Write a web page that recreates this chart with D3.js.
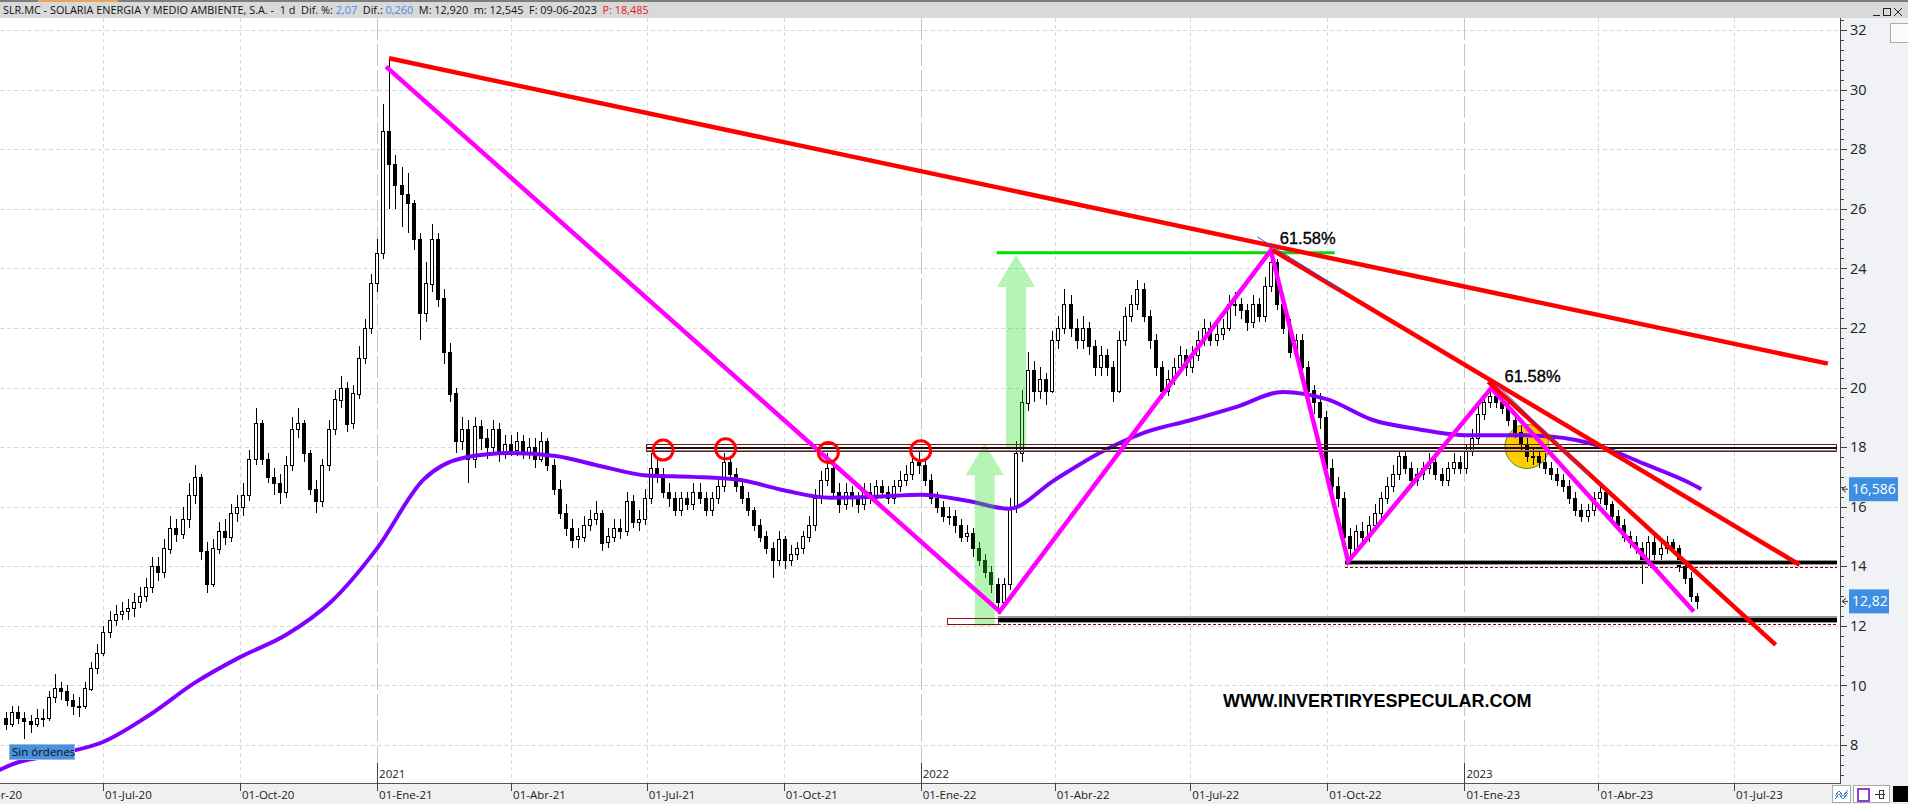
<!DOCTYPE html>
<html><head><meta charset="utf-8">
<script src="https://cdn.jsdelivr.net/npm/d3@7"></script>
<style>
html,body{margin:0;padding:0;background:#fff;overflow:hidden}
svg{display:block}
text{font-family:"Open Sans","Noto Sans",Arial,sans-serif}
</style></head><body>
<svg id="chart" width="1908" height="804"></svg>
<script>
// ---------------- DATA ----------------
const titleParts = [
  {t:"SLR.MC - SOLARIA ENERGIA Y MEDIO AMBIENTE, S.A. -  1 d  Dif. %: ", c:"#111"},
  {t:"2,07", c:"#3a8ee6"},
  {t:"  Dif.: ", c:"#111"},
  {t:"0,260", c:"#3a8ee6"},
  {t:"  M: 12,920  m: 12,545  F: 09-06-2023  ", c:"#111"},
  {t:"P: 18,485", c:"#e8141e"}
];
const sampleStart = "2020-04-27", sampleEnd = "2023-06-10"; // sampled every ~4 days
const open = [
8.9,8.7,9.1,8.9,8.8,8.7,8.9,8.9,9.6,9.9,
9.8,9.5,9.3,9.3,9.9,10.6,11.1,11.8,12.2,12.4,
12.5,12.6,12.8,13.0,13.3,14.0,13.8,14.6,15.3,15.1,
15.6,16.4,17.0,14.5,13.4,14.6,15.2,15.0,15.8,16.0,
16.4,17.6,18.8,17.6,17.0,16.8,16.5,17.4,18.6,18.8,
17.8,16.6,16.2,17.4,18.6,19.6,20.0,18.8,19.8,21.0,
22.0,23.5,24.5,28.6,27.5,26.8,26.5,26.2,25.0,22.5,
23.5,25.0,23.0,21.2,19.8,18.2,18.6,17.6,18.7,18.3,
18.0,18.6,17.8,18.1,17.9,18.2,17.8,18.0,17.6,18.2,
17.4,16.6,15.8,15.3,14.9,15.0,15.4,15.6,15.8,14.8,
15.0,15.3,15.2,16.2,15.5,15.6,16.3,17.3,17.1,16.5,
16.3,15.9,16.3,16.1,16.5,16.3,15.9,16.3,16.7,17.5,
17.1,16.7,16.3,15.9,15.4,15.0,14.6,14.2,14.9,14.2,
14.4,14.6,15.0,15.4,16.3,16.9,17.3,16.5,16.1,16.5,
16.3,16.1,16.5,16.3,16.7,16.5,16.3,16.7,16.9,17.1,
17.5,17.4,16.9,16.3,16.0,15.7,15.7,15.4,15.0,15.1,
14.6,14.2,13.8,13.4,12.8,13.4,16.0,17.8,19.5,20.6,
19.9,20.3,19.9,21.6,22.0,22.8,22.0,21.6,22.0,21.4,
20.7,21.1,20.7,19.9,21.6,22.4,22.8,23.3,22.4,21.6,
20.7,19.9,20.3,20.7,21.1,20.7,21.1,21.6,22.0,21.6,
21.8,22.0,22.8,22.8,22.6,22.2,22.8,22.4,23.4,24.2,
22.8,22.0,21.2,21.6,20.7,19.9,19.5,19.0,17.3,16.7,
16.3,15.0,14.6,15.2,15.0,15.4,15.8,16.3,16.7,17.1,
17.7,17.3,16.9,17.1,17.3,17.5,17.1,16.9,17.3,17.5,
17.3,17.9,18.3,19.1,19.5,19.7,19.5,19.3,18.9,18.5,
18.1,17.7,17.7,17.5,17.3,17.1,16.9,16.7,16.3,15.9,
15.7,15.9,16.3,16.5,16.1,15.7,15.4,15.0,14.8,14.6,
14.2,14.8,14.4,14.6,14.8,14.6,14.0,13.6,13.0];
const high = [
9.1,9.3,9.3,9.1,9.0,9.2,9.2,9.8,10.4,10.1,
10.0,9.7,9.6,10.1,10.8,11.4,12.0,12.5,12.7,12.8,
12.9,13.1,13.3,13.6,14.3,14.3,14.9,15.7,15.6,16.0,
16.8,17.4,17.1,14.8,14.9,15.5,15.6,16.1,16.4,16.8,
17.9,19.3,18.9,17.8,17.3,17.1,17.7,19.0,19.3,18.9,
17.9,16.9,17.6,18.9,19.9,20.4,20.2,20.1,21.4,22.3,
23.8,25.0,29.5,31.0,27.8,27.4,27.2,26.3,25.2,24.2,
25.5,25.2,23.3,21.5,20.0,19.0,18.9,19.0,18.9,18.6,
18.9,18.8,18.4,18.4,18.5,18.4,18.3,18.3,18.5,18.3,
17.6,16.9,16.1,15.6,15.3,15.7,15.9,16.2,15.9,15.3,
15.6,15.6,16.5,16.4,15.9,16.6,17.8,17.6,17.3,16.8,
16.5,16.5,16.5,16.8,16.8,16.5,16.5,17.0,17.8,17.7,
17.3,16.9,16.5,16.0,15.6,15.2,14.8,15.2,15.0,14.7,
14.8,15.2,15.7,16.6,17.2,17.8,17.4,16.8,16.8,16.7,
16.5,16.8,16.8,16.9,16.9,16.7,16.9,17.2,17.4,17.8,
17.9,17.6,17.1,16.5,16.2,16.0,15.9,15.6,15.4,15.3,
14.8,14.4,14.0,13.6,13.6,16.3,18.2,19.9,21.2,20.9,
20.7,20.5,21.9,22.4,23.3,23.1,22.3,22.4,22.2,21.6,
21.4,21.3,20.9,21.9,22.7,23.1,23.6,23.5,22.6,21.8,
20.9,20.6,21.0,21.4,21.3,21.4,21.9,22.3,22.2,22.1,
22.3,23.1,23.2,23.0,22.8,23.1,23.0,23.7,24.6,24.3,
23.0,22.3,21.8,21.8,20.9,20.1,19.8,19.2,17.6,17.0,
16.5,15.3,15.4,15.5,15.7,16.1,16.5,17.0,17.4,17.9,
17.9,17.5,17.3,17.5,17.8,17.7,17.3,17.5,17.8,17.7,
18.1,18.6,19.4,19.8,20.0,19.9,19.7,19.5,19.1,18.7,
18.3,18.0,17.9,17.8,17.5,17.3,17.1,16.9,16.5,16.1,
16.1,16.5,16.7,16.6,16.2,15.9,15.6,15.2,15.0,14.8,
15.0,15.0,14.8,15.0,14.9,14.7,14.2,13.8,13.1];
const low = [
8.5,8.6,8.7,8.2,8.4,8.6,8.6,8.8,9.4,9.5,
9.3,9.0,8.95,9.2,9.8,10.4,11.0,11.6,12.0,12.2,
12.2,12.3,12.6,12.8,13.1,13.5,13.6,14.4,14.8,14.9,
15.3,16.1,14.2,13.1,13.3,14.4,14.7,14.8,15.5,15.7,
16.2,17.4,17.4,16.8,16.4,16.1,16.3,17.2,18.3,17.5,
16.4,15.8,16.0,17.2,18.4,19.3,18.5,18.6,19.6,20.8,
21.8,23.2,24.3,26.0,26.0,25.4,25.2,24.6,21.6,22.2,
23.2,22.7,20.8,19.5,17.8,17.9,16.8,17.3,17.9,17.6,
17.8,17.5,17.6,17.7,17.7,17.6,17.6,17.3,17.5,17.2,
16.4,15.6,15.0,14.6,14.6,14.8,15.2,15.4,14.5,14.6,
14.8,14.9,15.0,15.3,15.2,15.4,16.1,16.8,16.3,16.0,
15.7,15.7,15.9,15.9,16.1,15.7,15.7,16.1,16.5,16.9,
16.5,16.1,15.7,15.2,14.8,14.4,13.6,14.0,13.9,14.0,
14.2,14.4,14.8,15.2,16.1,16.7,16.3,15.8,15.9,16.0,
15.8,15.9,16.1,16.1,16.3,16.1,16.1,16.5,16.7,16.9,
17.1,16.7,16.1,15.8,15.5,15.4,15.1,14.8,14.8,14.3,
14.0,13.6,13.1,12.4,12.6,13.2,15.8,17.5,19.2,19.5,
19.6,19.4,19.8,21.3,21.8,21.7,21.3,21.3,21.1,20.4,
20.4,20.4,19.5,19.8,21.4,22.2,22.6,22.2,21.3,20.4,
19.6,19.7,20.1,20.5,20.4,20.5,20.9,21.4,21.4,21.4,
21.6,21.9,22.4,22.3,21.9,22.0,22.2,22.2,23.2,22.6,
21.8,21.0,21.0,20.5,19.6,19.1,18.6,17.0,16.4,16.0,
14.8,14.2,14.4,14.8,14.8,15.2,15.6,16.1,16.5,16.9,
17.1,16.7,16.7,16.9,17.1,16.9,16.7,16.7,17.1,17.1,
17.1,17.7,18.1,18.9,19.3,19.3,19.1,18.7,18.3,17.9,
17.5,17.4,17.3,17.1,16.9,16.7,16.5,16.1,15.7,15.5,
15.5,15.7,16.1,15.9,15.5,15.2,14.8,14.6,14.4,13.4,
14.0,14.2,14.2,14.4,14.4,13.8,13.4,12.8,12.55];
const close = [
8.7,9.1,8.9,8.8,8.7,8.9,8.9,9.6,9.9,9.8,
9.5,9.3,9.3,9.9,10.6,11.1,11.8,12.2,12.4,12.5,
12.6,12.8,13.0,13.3,14.0,13.8,14.6,15.3,15.1,15.6,
16.4,17.0,14.5,13.4,14.6,15.2,15.0,15.8,16.0,16.4,
17.6,18.8,17.6,17.0,16.8,16.5,17.4,18.6,18.8,17.8,
16.6,16.2,17.4,18.6,19.6,20.0,18.8,19.8,21.0,22.0,
23.5,24.5,28.6,27.5,26.8,26.5,26.2,25.0,22.5,23.5,
25.0,23.0,21.2,19.8,18.2,18.6,17.6,18.7,18.3,18.0,
18.6,17.8,18.1,17.9,18.2,17.8,18.0,17.6,18.2,17.4,
16.6,15.8,15.3,14.9,15.0,15.4,15.6,15.8,14.8,15.0,
15.3,15.2,16.2,15.5,15.6,16.3,17.3,17.1,16.5,16.3,
15.9,16.3,16.1,16.5,16.3,15.9,16.3,16.7,17.5,17.1,
16.7,16.3,15.9,15.4,15.0,14.6,14.2,14.9,14.2,14.4,
14.6,15.0,15.4,16.3,16.9,17.3,16.5,16.1,16.5,16.3,
16.1,16.5,16.3,16.7,16.5,16.3,16.7,16.9,17.1,17.5,
17.4,16.9,16.3,16.0,15.7,15.7,15.4,15.0,15.1,14.6,
14.2,13.8,13.4,12.8,13.4,16.0,17.8,19.5,20.6,19.9,
20.3,19.9,21.6,22.0,22.8,22.0,21.6,22.0,21.4,20.7,
21.1,20.7,19.9,21.6,22.4,22.8,23.3,22.4,21.6,20.7,
19.9,20.3,20.7,21.1,20.7,21.1,21.6,22.0,21.6,21.8,
22.0,22.8,22.8,22.6,22.2,22.8,22.4,23.4,24.2,22.8,
22.0,21.2,21.6,20.7,19.9,19.5,19.0,17.3,16.7,16.3,
15.0,14.6,15.2,15.0,15.4,15.8,16.3,16.7,17.1,17.7,
17.3,16.9,17.1,17.3,17.5,17.1,16.9,17.3,17.5,17.3,
17.9,18.3,19.1,19.5,19.7,19.5,19.3,18.9,18.5,18.1,
17.7,17.7,17.5,17.3,17.1,16.9,16.7,16.3,15.9,15.7,
15.9,16.3,16.5,16.1,15.7,15.4,15.0,14.8,14.6,14.2,
14.8,14.4,14.6,14.8,14.6,14.0,13.6,13.0,12.82];

const maDates = ["2020-04-22","2020-05-01","2020-06-01","2020-07-01","2020-08-01","2020-09-01","2020-10-01","2020-11-01","2020-12-01",
"2021-01-01","2021-02-01","2021-03-01","2021-04-01","2021-05-01","2021-06-01","2021-07-01","2021-08-01","2021-09-01","2021-10-01","2021-11-01","2021-12-01",
"2022-01-01","2022-02-01","2022-03-01","2022-04-01","2022-05-01","2022-06-01","2022-07-01","2022-08-01","2022-09-01","2022-10-01","2022-11-01","2022-12-01",
"2023-01-01","2023-02-01","2023-03-01","2023-04-01","2023-05-01","2023-06-01","2023-06-09"];
const maValues = [7.15,7.35,7.7,8.1,9.0,10.1,10.95,11.7,12.8,
14.6,16.9,17.65,17.8,17.7,17.35,17.05,17.0,16.9,16.55,16.3,16.33,
16.4,16.2,15.93,16.9,17.8,18.5,18.9,19.35,19.85,19.6,18.9,18.6,
18.4,18.4,18.35,18.05,17.45,16.8,16.586];

const yMajorTicks = [8,10,12,14,16,18,20,22,24,26,28,30,32];
const quarterDates = ["2020-04-01","2020-07-01","2020-10-01","2021-01-01","2021-04-01","2021-07-01","2021-10-01","2022-01-01","2022-04-01","2022-07-01","2022-10-01","2023-01-01","2023-04-01","2023-07-01"];
const quarterLabels = ["01-Abr-20","01-Jul-20","01-Oct-20","01-Ene-21","01-Abr-21","01-Jul-21","01-Oct-21","01-Ene-22","01-Abr-22","01-Jul-22","01-Oct-22","01-Ene-23","01-Abr-23","01-Jul-23"];
const yearDates = ["2021-01-01","2022-01-01","2023-01-01"];
const yearLabels = ["2021","2022","2023"];

// drawings (date, value)
const redLines = [
  [["2021-01-09",31.05],["2023-09-02",20.8]],
  [["2022-08-25",24.62],["2023-08-14",14.05]],
  [["2023-01-17",20.2],["2023-07-29",11.36]]
];
const zigzag = [["2021-01-07",30.77],["2022-02-23",12.48],["2022-08-24",24.6],["2022-10-15",14.16],["2023-01-19",19.98],["2023-06-04",12.48]];
const blueLines = [
  [["2022-08-15",25.05],["2022-10-11",23.27]],
  [["2023-01-23",20.09],["2023-03-26",17.03]]
];
const greenTarget = [["2022-02-21",24.52],["2022-10-06",24.52]];
const arrows = [ // date, from value, to value
  ["2022-02-13",12.0,18.13],
  ["2022-03-06",18.0,24.45]
];
const redCircles = [["2021-07-12",17.9],["2021-08-23",17.94],["2021-10-31",17.82],["2022-01-01",17.88]];
const yellowCircle = ["2023-02-12",18.02];
const fibLabels = [["2022-08-30",24.82,"61.58%"],["2023-01-28",20.19,"61.58%"]];
const level18 = {from:"2021-07-01", to:"2023-09-08", top:18.08, bottom:17.84, line:17.98};
const level14 = {from:"2022-10-13", to:"2023-09-08", top:14.19, line:14.12, dash:13.95};
const level12 = {boxFrom:"2022-01-19", from:"2022-02-22", to:"2023-09-08", top:12.24, line:12.2, dash:12.03};
const watermark = ["2022-07-23",9.28,"WWW.INVERTIRYESPECULAR.COM"];
const lastPrice = close[close.length-1];
const lastMA = maValues[maValues.length-1];

// ---------------- SETUP ----------------
const W = 1908, H = 804, PR = 1840, PT = 18, PB = 783;
const parse = d3.utcParse("%Y-%m-%d");
const x = d3.scaleUtc().domain([parse("2020-07-01"), parse("2023-07-01")]).range([103, 1734]);
const y = d3.scaleLinear().domain([8, 32]).range([745, 30]);
const fmt = v => String(v).replace(".", ",");

const svg = d3.select("#chart");
svg.append("defs").append("clipPath").attr("id","pc")
  .append("rect").attr("x",0).attr("y",PT).attr("width",PR).attr("height",PB-PT);
svg.append("rect").attr("width",W).attr("height",H).attr("fill","#fff");

const plot = svg.append("g").attr("clip-path","url(#pc)");

// grid
const grid = plot.append("g").attr("shape-rendering","crispEdges");
grid.selectAll(".hg").data(yMajorTicks).join("line")
  .attr("x1",0).attr("x2",PR)
  .attr("y1",d=>Math.round(y(d))+0.5).attr("y2",d=>Math.round(y(d))+0.5)
  .attr("stroke","#d8d8d8").attr("stroke-dasharray","4,3");
grid.selectAll(".vg").data(quarterDates.filter(d=>!yearDates.includes(d))).join("line")
  .attr("x1",d=>Math.round(x(parse(d)))+0.5).attr("x2",d=>Math.round(x(parse(d)))+0.5)
  .attr("y1",PT).attr("y2",PB)
  .attr("stroke","#d8d8d8").attr("stroke-dasharray","4,3");
grid.selectAll(".yg").data(yearDates).join("line")
  .attr("x1",d=>Math.round(x(parse(d)))+0.5).attr("x2",d=>Math.round(x(parse(d)))+0.5)
  .attr("y1",PT).attr("y2",PB)
  .attr("stroke","#c6c6c6").attr("stroke-width",1.5).attr("stroke-dasharray","22,4");

// yellow circle (under price)
plot.append("circle").attr("cx",x(parse(yellowCircle[0]))).attr("cy",y(yellowCircle[1])).attr("r",22)
  .attr("fill","#ffcc00").attr("stroke","#4a8a2a").attr("stroke-width",1);

// candles
const sampleDates = d3.utcHour.range(parse(sampleStart), parse(sampleEnd), 98);
const n = Math.min(sampleDates.length, close.length, open.length, high.length, low.length);
const candles = d3.range(n).map(i => ({d:sampleDates[i], o:open[i], h:high[i], l:low[i], c:close[i]}));
const cg = plot.append("g").attr("shape-rendering","crispEdges");
cg.selectAll("line").data(candles).join("line")
  .attr("x1",d=>Math.round(x(d.d))+0.5).attr("x2",d=>Math.round(x(d.d))+0.5)
  .attr("y1",d=>y(d.h)).attr("y2",d=>y(d.l)).attr("stroke","#000").attr("stroke-width",1.6);
cg.selectAll("rect").data(candles).join("rect")
  .attr("x",d=>Math.round(x(d.d))-1.5).attr("width",3)
  .attr("y",d=>Math.round(y(Math.max(d.o,d.c)))+0.5)
  .attr("height",d=>Math.max(1, Math.round(Math.abs(y(d.o)-y(d.c)))))
  .attr("fill",d=>d.c>=d.o?"#fff":"#000").attr("stroke","#000");

// moving average
plot.append("path").datum(maDates.map((d,i)=>[parse(d),maValues[i]]))
  .attr("d", d3.line().x(d=>x(d[0])).y(d=>y(d[1])).curve(d3.curveMonotoneX))
  .attr("fill","none").attr("stroke","#8000ff").attr("stroke-width",4);

// green arrows (translucent)
function arrowPath(cx, yb, ya, sw, hw, hh){
  return `M${cx-sw/2},${yb}L${cx-sw/2},${ya+hh}L${cx-hw/2},${ya+hh}L${cx},${ya}L${cx+hw/2},${ya+hh}L${cx+sw/2},${ya+hh}L${cx+sw/2},${yb}Z`;
}
plot.selectAll(".arrow").data(arrows).join("path")
  .attr("d",d=>arrowPath(x(parse(d[0])), y(d[1]), y(d[2]), 20, 38, 32))
  .attr("fill","#28e128").attr("fill-opacity",0.35);

// level lines
const lg = plot.append("g").attr("shape-rendering","crispEdges");
// 18
lg.append("rect").attr("x",x(parse(level18.from))).attr("y",y(level18.top))
  .attr("width",x(parse(level18.to))-x(parse(level18.from))).attr("height",y(level18.bottom)-y(level18.top))
  .attr("fill","none").attr("stroke","#7a1515").attr("stroke-width",1);
lg.append("line").attr("x1",x(parse(level18.from))).attr("x2",x(parse(level18.to)))
  .attr("y1",y(level18.line)).attr("y2",y(level18.line)).attr("stroke","#111").attr("stroke-width",2);
lg.append("line").attr("x1",x(parse(level18.from))).attr("x2",x(parse(level18.to)))
  .attr("y1",y(level18.line)+3).attr("y2",y(level18.line)+3).attr("stroke","#888").attr("stroke-width",1);
// 14
lg.append("line").attr("x1",x(parse(level14.from))).attr("x2",x(parse(level14.to)))
  .attr("y1",y(level14.top)).attr("y2",y(level14.top)).attr("stroke","#9a1010").attr("stroke-width",1);
lg.append("line").attr("x1",x(parse(level14.from))).attr("x2",x(parse(level14.to)))
  .attr("y1",y(level14.line)).attr("y2",y(level14.line)).attr("stroke","#999").attr("stroke-width",5);
lg.append("line").attr("x1",x(parse(level14.from))).attr("x2",x(parse(level14.to)))
  .attr("y1",y(level14.line)).attr("y2",y(level14.line)).attr("stroke","#000").attr("stroke-width",3);
lg.append("line").attr("x1",x(parse(level14.from))).attr("x2",x(parse(level14.to)))
  .attr("y1",y(level14.dash)).attr("y2",y(level14.dash)).attr("stroke","#8b0000").attr("stroke-dasharray","3,2");
// 12
lg.append("rect").attr("x",x(parse(level12.boxFrom))).attr("y",y(level12.top))
  .attr("width",x(parse(level12.from))-x(parse(level12.boxFrom))).attr("height",y(level12.dash)-y(level12.top))
  .attr("fill","none").attr("stroke","#8b1a1a");
lg.append("line").attr("x1",x(parse(level12.from))).attr("x2",x(parse(level12.to)))
  .attr("y1",y(level12.line)).attr("y2",y(level12.line)).attr("stroke","#999").attr("stroke-width",7);
lg.append("line").attr("x1",x(parse(level12.from))).attr("x2",x(parse(level12.to)))
  .attr("y1",y(level12.line)).attr("y2",y(level12.line)).attr("stroke","#000").attr("stroke-width",4);
lg.append("line").attr("x1",x(parse(level12.boxFrom))).attr("x2",x(parse(level12.to)))
  .attr("y1",y(level12.dash)).attr("y2",y(level12.dash)).attr("stroke","#8b0000").attr("stroke-dasharray","3,2");

// green target
plot.append("line").attr("x1",x(parse(greenTarget[0][0]))).attr("x2",x(parse(greenTarget[1][0])))
  .attr("y1",y(greenTarget[0][1])).attr("y2",y(greenTarget[1][1]))
  .attr("stroke","#00e000").attr("stroke-width",3);

const ln = d3.line().x(d=>x(parse(d[0]))).y(d=>y(d[1]));
// zigzag
plot.append("path").attr("d",ln(zigzag)).attr("fill","none")
  .attr("stroke","#ff00ff").attr("stroke-width",4.5).attr("stroke-linejoin","miter");
// red trend lines
plot.selectAll(".red").data(redLines).join("path").attr("d",d=>ln(d))
  .attr("fill","none").attr("stroke","#ff0000").attr("stroke-width",4.5);
// blue thin lines
plot.selectAll(".blue").data(blueLines).join("path").attr("d",d=>ln(d))
  .attr("fill","none").attr("stroke","#1f5fd0").attr("stroke-width",1);
// red circles
plot.selectAll(".rc").data(redCircles).join("circle")
  .attr("cx",d=>x(parse(d[0]))).attr("cy",d=>y(d[1])).attr("r",10)
  .attr("fill","none").attr("stroke","#ff0000").attr("stroke-width",3);
// fib labels
plot.selectAll(".fib").data(fibLabels).join("text")
  .attr("x",d=>x(parse(d[0]))).attr("y",d=>y(d[1])).text(d=>d[2])
  .style("font-family","'Liberation Sans',Arial,sans-serif").style("font-size","16.5px")
  .attr("fill","#000").attr("stroke","#000").attr("stroke-width",0.35);
// watermark
plot.append("text").attr("x",x(parse(watermark[0]))).attr("y",y(watermark[1])).text(watermark[2])
  .style("font-family","'Liberation Sans',Arial,sans-serif").style("font-size","18px").style("font-weight","bold").attr("fill","#000");

// "Sin órdenes"
svg.append("rect").attr("x",9.5).attr("y",744.5).attr("width",65).attr("height",15)
  .attr("fill","#4a90dc").attr("stroke","#8cbcf0");
svg.append("text").attr("x",12).attr("y",756).text("Sin órdenes").style("font-size","11.5px").attr("fill","#111");

// ---------------- PANELS & AXES ----------------
svg.append("rect").attr("x",PR+1).attr("y",PT).attr("width",W-PR-1).attr("height",PB-PT).attr("fill","#f1f2f5");
svg.append("rect").attr("x",0).attr("y",PB).attr("width",W).attr("height",H-PB).attr("fill","#f0f0f0");
// title bar
svg.append("rect").attr("x",0).attr("y",0).attr("width",W).attr("height",PT).attr("fill","#d9d9d9");
svg.append("rect").attr("x",0).attr("y",0).attr("width",W).attr("height",2).attr("fill","#7d7d7d");
svg.append("rect").attr("x",38).attr("y",0).attr("width",80).attr("height",2).attr("fill","#e9a55e");
const tt = svg.append("text").attr("x",3).attr("y",14).attr("xml:space","preserve")
  .style("font-size","12px").style("white-space","pre");
titleParts.forEach(p=>tt.append("tspan").text(p.t).attr("fill",p.c));
const natural = tt.node().getComputedTextLength();
if (natural > 0) tt.style("font-size", (12 * 646 / natural).toFixed(2) + "px");

// window buttons
const wb = svg.append("g").attr("stroke","#222").attr("fill","none").attr("shape-rendering","crispEdges");
wb.append("line").attr("x1",1873).attr("x2",1880).attr("y1",15.5).attr("y2",15.5);
wb.append("rect").attr("x",1883.5).attr("y",8.5).attr("width",7).attr("height",7);
wb.append("line").attr("x1",1894).attr("x2",1902).attr("y1",8).attr("y2",16);
wb.append("line").attr("x1",1902).attr("x2",1894).attr("y1",8).attr("y2",16);
svg.append("rect").attr("x",1890.5).attr("y",23.5).attr("width",18).attr("height",19).attr("fill","#fafafa").attr("stroke","#aaa");

// y axis
const ya = svg.append("g").attr("shape-rendering","crispEdges");
ya.append("line").attr("x1",PR+0.5).attr("x2",PR+0.5).attr("y1",PT).attr("y2",PB).attr("stroke","#444");
const minor = d3.range(-4, 76).map(k=>8+k/3).filter(v=>y(v)>PT+1 && y(v)<PB-1);
ya.selectAll(".mt").data(minor).join("line")
  .attr("x1",PR).attr("x2",PR+4).attr("y1",d=>Math.round(y(d))+0.5).attr("y2",d=>Math.round(y(d))+0.5).attr("stroke","#444");
ya.selectAll(".Mt").data(yMajorTicks).join("line")
  .attr("x1",PR).attr("x2",PR+7).attr("y1",d=>Math.round(y(d))+0.5).attr("y2",d=>Math.round(y(d))+0.5).attr("stroke","#444");
svg.selectAll(".yl").data(yMajorTicks).join("text")
  .attr("x",PR+10).attr("y",d=>y(d)).attr("dy","0.36em").text(d=>d)
  .style("font-size","14.5px").attr("fill","#222");

// value badges
function badge(v, label, w){
  const yy = y(v);
  svg.append("rect").attr("x",1849).attr("y",yy-12).attr("width",w).attr("height",24).attr("fill","#3d8fe2");
  svg.append("text").attr("x",1852).attr("y",yy).attr("dy","0.36em").text(label)
    .style("font-size","14px").attr("fill","#fff");
  svg.append("path").attr("d",`M1846,${yy-3}L1842,${yy}L1846,${yy+3}M1842,${yy}L1848,${yy}`)
    .attr("stroke","#333").attr("fill","none");
}
badge(lastMA, fmt(lastMA), 49);
badge(lastPrice, fmt(lastPrice), 40);

// x axis
const xa = svg.append("g").attr("shape-rendering","crispEdges");
xa.append("line").attr("x1",0).attr("x2",PR+1).attr("y1",PB+0.5).attr("y2",PB+0.5).attr("stroke","#555").attr("stroke-width",1.5);
xa.selectAll(".qt").data(quarterDates).join("line")
  .attr("x1",d=>Math.round(x(parse(d)))+0.5).attr("x2",d=>Math.round(x(parse(d)))+0.5)
  .attr("y1",PB).attr("y2",PB+8).attr("stroke","#444");
xa.selectAll(".ytk").data(yearDates).join("line")
  .attr("x1",d=>Math.round(x(parse(d)))+0.5).attr("x2",d=>Math.round(x(parse(d)))+0.5)
  .attr("y1",PB-20).attr("y2",PB).attr("stroke","#444");
svg.selectAll(".ql").data(quarterDates).join("text")
  .attr("x",d=>x(parse(d))+2).attr("y",PB+16).text((d,i)=>quarterLabels[i])
  .style("font-size","11.5px").attr("fill","#222");
svg.selectAll(".yrl").data(yearDates).join("text")
  .attr("x",d=>x(parse(d))+2).attr("y",PB-5).text((d,i)=>yearLabels[i])
  .style("font-size","11.5px").attr("fill","#222");

// bottom-right icons
const bi = svg.append("g").attr("shape-rendering","crispEdges");
bi.append("rect").attr("x",1832.5).attr("y",785.5).attr("width",18).attr("height",17).attr("fill","#fff").attr("stroke","#aaa");
bi.append("path").attr("d","M1835,796L1839,791L1843,796L1848,790M1835,799L1839,794L1843,799L1848,793").attr("stroke","#3b7fd0").attr("fill","none");
bi.append("rect").attr("x",1853.5).attr("y",785.5).attr("width",36).attr("height",17).attr("fill","#fff").attr("stroke","#aaa");
bi.append("rect").attr("x",1857.5).attr("y",788.5).attr("width",11).attr("height",12).attr("fill","none").attr("stroke","#8a3fd0").attr("stroke-width",2);
bi.append("path").attr("d","M1875,794L1885,794M1879,790L1879,798M1879,790L1883,790L1883,798L1879,798").attr("stroke","#333").attr("fill","none");
bi.append("rect").attr("x",1893).attr("y",786).attr("width",15).attr("height",16).attr("fill","#000");
</script>
</body></html>
